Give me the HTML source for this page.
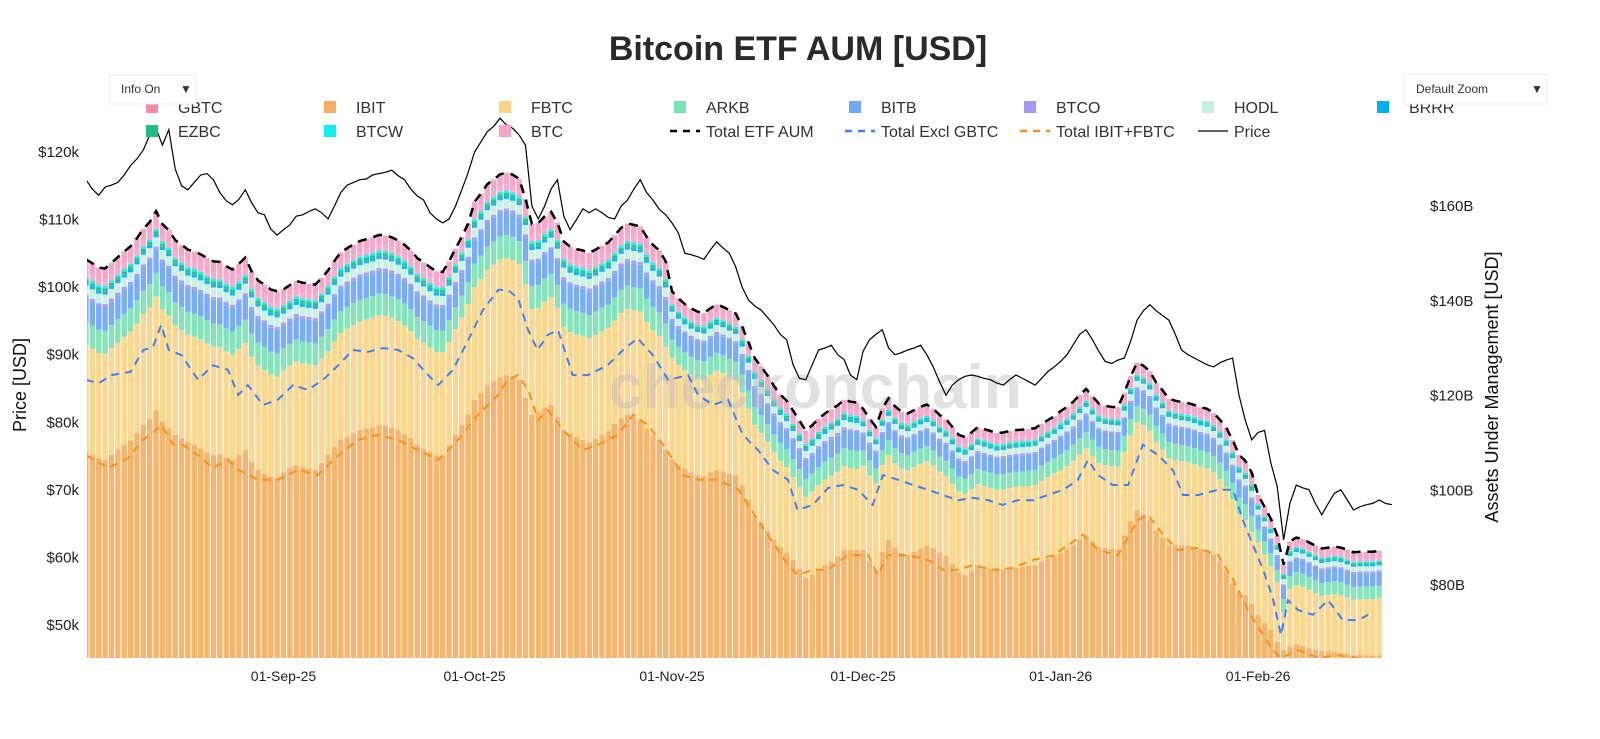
<!DOCTYPE html>
<html><head><meta charset="utf-8"><style>
body{margin:0;background:#fff;}
svg{display:block;font-family:"Liberation Sans",sans-serif;}
</style></head><body>
<svg id="chart" width="1600" height="739" viewBox="0 0 1600 739" xmlns="http://www.w3.org/2000/svg">
<rect x="0" y="0" width="1600" height="739" fill="#fff"/>
<text x="798" y="60" text-anchor="middle" font-size="34" font-weight="bold" fill="#2a2a2a">Bitcoin ETF AUM [USD]</text>
<g id="plot"></g>
<text x="815" y="408" text-anchor="middle" font-size="62" font-weight="bold" fill="#bdbdbd" fill-opacity="0.45">checkonchain</text>
<g id="lines"></g>
<g id="axes"></g>
<g id="legend"></g>
<g>
<rect x="110" y="75" width="86" height="29" fill="#fff" stroke="#eee"/>
<text x="121" y="93" font-size="12" fill="#333">Info On</text>
<text x="180" y="93" font-size="12" fill="#333">▼</text>
</g>
<g>
<rect x="1404" y="74" width="143" height="30" fill="#fff" stroke="#eee"/>
<text x="1416" y="93" font-size="12" fill="#333">Default Zoom</text>
<text x="1531" y="93" font-size="12" fill="#333">▼</text>
</g>
<text transform="translate(26,385) rotate(-90)" text-anchor="middle" font-size="18" fill="#111">Price [USD]</text>
<text transform="translate(1498,387) rotate(-90)" text-anchor="middle" font-size="18" fill="#111">Assets Under Management [USD]</text>
</svg>
<script>
const startDate = [2025,7,1];
const ibit = [108.1,107.5,106.8,106.4,107.5,108.6,109.6,110.5,112.0,113.8,115.0,116.9,114.5,113.0,111.7,111.0,110.2,109.6,108.8,108.0,107.4,107.6,106.9,106.4,107.5,108.5,106.0,104.3,103.5,102.8,102.6,103.8,104.6,105.3,104.9,104.6,104.3,105.8,107.6,109.2,110.6,111.3,112.0,112.7,113.0,113.3,113.8,113.6,113.2,112.7,111.9,111.0,109.6,108.8,108.2,107.4,107.4,109.5,111.8,113.8,116.0,119.1,120.5,122.2,123.0,123.8,124.3,124.0,123.3,119.5,115.9,116.5,117.5,118.0,115.5,112.7,112.0,111.2,110.6,110.2,110.8,111.7,112.5,114.0,115.2,115.9,115.4,114.8,113.0,111.5,110.6,108.5,106.5,105.3,104.6,103.8,103.2,103.0,103.8,104.3,104.0,103.5,103.2,101.0,98.0,94.8,93.2,91.5,89.5,88.0,86.8,85.3,83.5,81.5,82.2,83.2,84.2,85.0,86.0,87.4,87.4,87.4,87.4,85.0,83.2,87.0,89.5,88.0,86.8,86.3,87.0,87.6,88.4,87.8,86.9,86.3,84.5,82.6,82.1,83.0,84.2,83.8,83.5,83.2,83.3,83.5,83.6,83.8,84.0,84.2,85.0,85.6,86.3,86.8,87.5,88.4,89.5,90.6,89.2,88.0,87.8,87.6,87.4,90.5,93.5,95.8,95.0,93.7,91.5,90.0,88.4,88.4,88.4,88.4,88.0,87.6,87.4,86.5,85.0,83.2,80.5,78.5,77.9,76.0,73.7,72.0,70.5,68.0,66.3,67.0,67.4,67.2,66.6,66.3,66.1,66.0,65.9,65.6,65.4,65.2,65.3,65.2,65.1,65.2];
const fbtc = [22.6,22.4,22.2,22.4,22.5,22.6,22.8,23.0,23.2,23.4,23.6,24.0,23.7,23.9,23.1,22.8,22.6,22.8,23.0,23.0,22.9,22.6,22.4,22.2,22.3,22.6,22.2,22.0,21.9,21.6,21.4,21.6,21.7,21.9,21.9,22.0,22.1,22.0,21.8,22.2,22.6,22.8,22.9,22.9,23.0,23.1,23.1,23.2,23.2,23.0,22.9,22.6,22.4,22.3,21.9,21.8,21.7,21.8,22.2,22.7,23.3,23.8,24.1,24.4,24.6,24.9,24.7,24.6,24.4,24.0,22.3,21.9,22.3,22.8,23.0,21.8,21.4,21.7,22.0,21.9,22.0,21.9,21.8,21.8,22.2,22.4,22.6,22.9,22.5,22.3,22.0,21.8,21.5,21.2,20.7,20.6,20.5,20.4,20.6,20.9,20.7,20.5,20.1,19.6,19.2,19.0,18.9,18.7,18.5,18.2,18.1,17.5,17.2,17.1,17.5,17.9,18.0,18.1,17.9,17.7,17.3,17.1,17.8,18.1,18.2,18.3,17.9,17.7,17.8,17.9,17.9,18.0,17.7,17.4,17.0,16.7,16.9,17.1,17.1,17.2,17.1,17.1,17.0,16.9,16.9,17.0,17.1,17.0,16.9,16.9,17.0,17.2,17.3,17.4,17.6,17.8,18.1,18.3,18.1,17.8,17.5,17.5,17.6,17.6,18.1,18.6,18.8,18.9,18.7,18.6,18.4,18.0,17.7,17.5,17.5,17.4,17.3,17.3,17.4,17.5,17.6,16.5,15.8,15.2,15.3,14.5,13.5,12.5,8.0,12.2,12.6,12.5,12.4,12.0,11.6,11.9,12.2,12.3,12.0,11.7,11.7,11.8,11.9,12.0];
// monthly holdings (Aug..Feb), USD bn
const arkb = [4.9,4.6,4.9,3.8,3.2,3.4,2.7];
const bitb = [5.0,4.8,5.0,3.9,3.4,3.5,2.8];
const btco = [0.6,0.6,0.6,0.5,0.4,0.4,0.35];
const hodl = [2.0,1.9,2.0,1.5,1.3,1.4,1.1];
const brrr = [0.7,0.7,0.7,0.6,0.5,0.5,0.4];
const ezbc = [0.6,0.6,0.6,0.5,0.4,0.4,0.35];
const btcw = [0.5,0.5,0.5,0.4,0.4,0.4,0.3];
const btcMini = [1.3,1.2,1.3,1.0,0.8,0.9,0.7];
const gbtc = [2.4,2.1,2.4,1.8,1.6,1.6,1.3];
const price = [115.9,114.5,113.6,114.8,115.1,115.5,116.6,118.0,119.0,120.3,122.5,123.5,121.0,123.3,117.5,115.0,114.4,115.5,116.6,116.8,115.9,114.0,112.8,112.2,113.0,114.4,112.5,111.0,110.7,108.6,107.7,108.5,109.2,110.5,110.7,111.2,111.6,111.0,110.1,112.0,114.0,115.1,115.5,115.9,116.0,116.6,116.8,117.0,117.3,116.5,115.9,114.5,113.5,112.9,111.0,110.1,109.5,110.1,112.0,114.4,117.0,120.0,121.5,123.0,123.8,125.0,124.0,123.5,122.5,121.0,112.0,110.1,112.0,114.5,115.9,110.5,108.5,110.0,111.6,111.0,111.6,111.0,110.3,110.1,112.0,112.9,114.5,115.9,114.0,112.9,111.5,110.7,109.5,108.0,105.0,104.8,104.5,104.1,105.5,106.7,105.8,105.0,103.0,100.0,98.1,97.2,96.6,95.5,94.4,93.0,92.2,88.5,86.5,86.3,88.5,90.7,91.0,91.4,90.0,89.3,87.0,86.3,90.5,92.2,93.0,93.7,91.0,90.0,90.3,90.7,91.0,91.4,90.0,88.2,86.0,84.0,85.5,86.3,86.8,87.0,86.8,86.5,86.3,85.8,85.5,86.3,87.0,86.5,86.0,85.5,86.5,87.5,88.2,89.0,90.0,91.5,93.0,93.7,92.2,90.5,89.0,88.7,89.2,89.5,92.0,95.1,96.5,97.4,96.5,95.8,95.1,93.0,90.7,90.0,89.5,89.0,88.5,88.2,88.8,89.2,89.5,84.0,80.3,77.4,78.5,78.8,74.0,70.5,62.6,68.0,70.7,70.3,70.0,68.0,66.3,68.0,69.5,70.0,68.5,67.0,67.5,67.8,68.0,68.5,68.0,67.8];
const exGbtcDays = [0,2,4,7,9,10.5,11.8,13,15,17.6,19.9,22.3,23.9,25.4,27.8,30.1,32.5,34.8,37.2,39.6,41.9,44.3,46.6,49,51.3,53.7,55.3,57.6,60,62.3,64.7,66.2,67.8,69.4,70.9,72.5,74.1,76.4,78.8,81.9,84.3,86.6,89,91.4,94.5,96.1,98.4,100.8,103.1,105.5,107.8,110.2,111.7,114.1,116.5,118.8,121.2,123.5,125.1,127.5,129.8,132.2,134.5,136.9,139.2,141.6,143.9,146.3,148.7,151,153.4,155.7,157.3,158.9,161.2,163.6,165.9,168.3,170.6,172.2,174.6,177.7,180.1,181.6,183.2,184.8,186.3,187.6,188.7,190.3,192.6,195,197.3,199.7,201.3];
const exGbtc = [123.3,122.6,124.3,125.0,129.6,130.2,134.9,129.6,128.5,123.3,126.4,125.4,120.1,122.2,118.0,119.1,122.2,121.2,123.3,126.4,129.6,129.2,130.0,129.6,127.9,124.3,122.2,125.4,131.7,138.0,142.3,142.3,140.6,133.8,129.6,132.8,133.8,124.3,124.3,126.4,129.6,132.1,128.5,123.3,124.3,120.1,118.0,119.1,111.7,108.5,104.3,102.2,95.8,96.9,100.5,101.1,100.1,96.9,103.2,102.2,101.1,100.1,99.0,97.9,98.4,97.9,96.9,97.9,97.9,99.0,100.1,102.2,106.4,103.2,101.1,101.1,109.6,107.4,104.3,99.0,99.0,100.1,100.1,93.7,88.4,83.2,77.3,69.4,76.8,74.7,73.7,76.8,72.6,72.6,73.7];
const ibitFbtcDays = [0,3.5,6.6,8.9,10.5,11.8,13.7,15.2,17.6,19.9,22.3,23.9,27,30.1,33.3,36.4,39.6,42.7,45.8,49,52.1,55.3,58.4,61.5,64.7,66.2,67.8,69.4,71,72.5,74.9,78,80.4,83.5,85.9,88.2,90.6,93.7,96.1,99.2,102.4,105.5,108.6,110.2,111.8,114.1,116.5,119.6,122.8,124.3,125.9,129,132.2,134.5,136.9,139.2,142.4,145.5,148.7,151.8,154.2,156.5,158.9,162,165.1,166.7,169.1,171.4,174.6,177.7,180.1,182.4,184.8,186.3,187.6,190.3,193.4,196.5,199.7];
const ibitFbtc = [107.4,104.7,106.8,110.6,112.1,113.8,109.6,109.6,107.4,104.7,106.4,104.3,102.2,102.2,104.3,103.2,107.4,110.6,111.7,110.6,108.5,106.4,110.6,115.9,120.1,123.3,124.3,121.2,114.8,116.9,112.7,108.5,109.6,111.7,115.9,113.8,109.6,103.2,102.2,102.2,100.1,93.7,87.4,84.2,82.1,83.2,83.2,86.3,86.3,82.1,86.3,86.3,85.3,83.2,83.2,84.2,83.2,83.6,85.3,86.3,88.4,90.6,87.4,86.3,93.7,94.8,90.6,87.4,87.8,86.3,81.1,74.7,69.4,66.3,64.6,66.3,64.6,65.2,64.6];
const dateTicks = ["01-Sep-25","01-Oct-25","01-Nov-25","01-Dec-25","01-Jan-26","01-Feb-26"];
const tickDays = [31,61,92,122,153,184];
const priceTicks = [50,60,70,80,90,100,110,120];
const aumTicks = [80,100,120,140,160];

const NS="http://www.w3.org/2000/svg";
const PL=87, PR=1397, PB=658, PT=95;
const xDay = d => 86 + d*6.37;
const yPrice = p => 152 + (120-p)*6.757;
const yAum = v => 206 + (160-v)*4.7375;
function mk(tag, attrs, parent){const e=document.createElementNS(NS,tag);for(const k in attrs)e.setAttribute(k,attrs[k]);parent.appendChild(e);return e;}
const svg=document.getElementById('chart');
const defs=mk('defs',{},svg);
const cp=mk('clipPath',{id:'clip'},defs);
mk('rect',{x:PL,y:PT,width:PR-PL,height:PB-PT},cp);
const plot=document.getElementById('plot'); plot.setAttribute('clip-path','url(#clip)');
const lines=document.getElementById('lines'); lines.setAttribute('clip-path','url(#clip)');
function monthIdx(d){const dt=new Date(startDate[0],startDate[1],startDate[2]+d);return (dt.getFullYear()-2025)*12+dt.getMonth()-7;}
const layers=[
 {name:'ibit',daily:ibit,color:'#f5ae5f'},
 {name:'fbtc',daily:fbtc,color:'#fdd386'},
 {name:'arkb',m:arkb,color:'#79e2b4'},
 {name:'bitb',m:bitb,color:'#6ea6f9'},
 {name:'btco',m:btco,color:'#a796f6'},
 {name:'hodl',m:hodl,color:'#c6f1e1'},
 {name:'brrr',m:brrr,color:'#06b0ef'},
 {name:'ezbc',m:ezbc,color:'#1cbf82'},
 {name:'btcw',m:btcw,color:'#0ff0f0'},
 {name:'btc',m:btcMini,color:'#f8a6c8'},
 {name:'gbtc',m:gbtc,color:'#f59fc3'}];
const totals=[];
for(let d=0; d<ibit.length; d++){
  let cum=0; const mi=Math.min(monthIdx(d),6);
  const cx=xDay(d);
  for(const L of layers){
    const v=L.daily?L.daily[d]:L.m[mi];
    const y0=cum===0?PB:yAum(cum); cum+=v; const y1=yAum(cum);
    const r=mk('rect',{x:(cx-2.7).toFixed(2),y:Math.min(y1,PB).toFixed(2),width:5.4,height:Math.max(0,Math.min(y0,PB)-Math.min(y1,PB)).toFixed(2),fill:L.color,'fill-opacity':0.92},plot);
    
    
  }
  totals.push(cum);
}
function path(xs,ys,attrs,name){
  let dstr='';for(let i=0;i<xs.length;i++)dstr+=(i?'L':'M')+xs[i].toFixed(1)+','+ys[i].toFixed(1);
  const p=mk('path',Object.assign({d:dstr,fill:'none'},attrs),lines);
  
  
}
path(ibitFbtcDays.map(xDay),ibitFbtc.map(yAum),{stroke:'#f7931a','stroke-width':2,'stroke-dasharray':'8,6'},'total-ibit-fbtc-line');
path(exGbtcDays.map(xDay),exGbtc.map(yAum),{stroke:'#3b82f6','stroke-width':2,'stroke-dasharray':'8,6'},'total-excl-gbtc-line');
path(totals.map((v,i)=>xDay(i)),totals.map(yAum),{stroke:'#000','stroke-width':2.5,'stroke-dasharray':'9,7'},'total-etf-aum-line');
path(price.map((v,i)=>xDay(i)),price.map(yPrice),{stroke:'#000','stroke-width':1.2},'price-line');
const axes=document.getElementById('axes');
priceTicks.forEach(p=>{const t=mk('text',{x:79,y:(yPrice(p)+5).toFixed(1),'text-anchor':'end','font-size':15,fill:'#222'},axes);t.textContent='$'+p+'k';
 });
aumTicks.forEach(v=>{const t=mk('text',{x:1430,y:(yAum(v)+5).toFixed(1),'font-size':15,fill:'#222'},axes);t.textContent='$'+v+'B';
 });
dateTicks.forEach((s,i)=>{const t=mk('text',{x:xDay(tickDays[i]).toFixed(1),y:681,'text-anchor':'middle','font-size':14,fill:'#222'},axes);t.textContent=s;
 });
const legend=document.getElementById('legend');
const legItems=[['GBTC','#f48aa6',152,107,'sq'],['IBIT','#f5ae5f',330,107,'sq'],['FBTC','#fdd386',505,107,'sq'],['ARKB','#79e2b4',680,107,'sq'],['BITB','#6ea6f9',855,107,'sq'],['BTCO','#a796f6',1030,107,'sq'],['HODL','#c6f1e1',1208,107,'sq'],['BRRR','#06b0ef',1383,107,'sq'],
['EZBC','#1cbf82',152,131,'sq'],['BTCW','#0ff0f0',330,131,'sq'],['BTC','#f8a6c8',505,131,'sq'],['Total ETF AUM','#000',680,131,'dash'],['Total Excl GBTC','#3b82f6',855,131,'dash'],['Total IBIT+FBTC','#f7931a',1030,131,'dash'],['Price','#000',1208,131,'line']];
legItems.forEach(it=>{
  const g=mk('g',{},legend);
  
  
  const [lab,col,x,y,kind]=it;
  if(kind==='sq') mk('rect',{x:x-6,y:y-6,width:12,height:12,fill:col},g);
  else if(kind==='dash') mk('line',{x1:x-10,y1:y,x2:x+20,y2:y,stroke:col,'stroke-width':2.5,'stroke-dasharray':'7,6'},g);
  else mk('line',{x1:x-10,y1:y,x2:x+20,y2:y,stroke:col,'stroke-width':1.3},g);
  const t=mk('text',{x:x+26,y:y+6,'font-size':16,fill:'#333'},g); t.textContent=lab;
});
</script>
</body></html>
